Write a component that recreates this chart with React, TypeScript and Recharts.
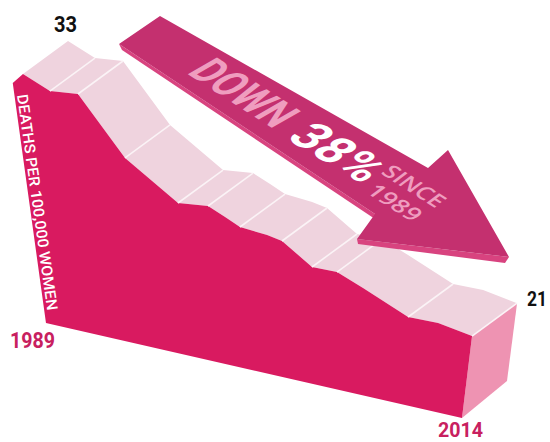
// App.tsx: extruded wedge chart of deaths per 100,000 women, 1989-2014
import { ScatterChart, Scatter, XAxis, YAxis } from "recharts";

// front edge of the wedge
const years = [1989, 1990.5, 1992.06, 1994.68, 1997.63, 1999.3, 2000.25, 2001.08, 2002.59, 2003.42, 2005.09, 2006.48, 2007.93, 2010.44, 2012.11, 2014];
const rates = [33, 32.18, 32.44, 28.44, 25.96, 26.25, 25.72, 25.22, 25.08, 24.89, 23.45, 23.5, 22.74, 21.34, 21.4, 21];

// white rules across the top face
const dividerYears = [1990.5, 1992.06, 1994.68, 1997.63, 1999.3, 2001.08, 2003.42, 2005.09, 2006.48, 2010.44, 2014];

const baseRate = 14.67;
const chamferYear = 1988.43;
const chamferRate = 32.15;
const baseStartYear = 1990.28;
const baseEndYear = 2013.44;

// oblique projection, in axis units
const floorSlope = 0.3083;
const depthYears = 2.506;
const depthRate = 2.48;

const project = (year: number, rate: number, depth = 0) => ({
  x: year + depth * depthYears,
  y: rate - floorSlope * (year - 1989) + depth * depthRate,
});

const frontEdge = years.map((y, i) => project(y, rates[i]));
const backEdge = years.map((y, i) => project(y, rates[i], 1));

const frontFace = [
  project(chamferYear, chamferRate),
  ...frontEdge,
  project(baseEndYear, baseRate),
  project(baseStartYear, baseRate),
];
const topFace = [...frontEdge, ...[...backEdge].reverse()];
const sideFace = [
  project(2014, 21),
  project(2014, 21, 1),
  project(baseEndYear, baseRate + 0.3, 1),
  project(baseEndYear, baseRate),
];

const noDot = () => <g />;

const pathOf = (points: { x: number; y: number }[]) =>
  points.map((p, i) => `${i ? "L" : "M"}${p.x},${p.y}`).join(" ");

const polygon = (fill: string) => (props: any) => (
  <path d={pathOf(props.points) + " Z"} fill={fill} stroke="none" />
);

const rule = (props: any) => (
  <path d={pathOf(props.points)} fill="none" stroke="#FBF3F6" strokeWidth={1.6} />
);

const ARROW = "#C4306F";
const ARROW_EDGE = "#D8437F";
const ARROW_TEXT = "#EF9DBF";
const YEAR_TEXT = "#C8205F";

export default function App() {
  return (
    <div style={{ position: "absolute", left: 0, top: 0, width: 550, height: 442, background: "#fff" }}>
      <ScatterChart width={550} height={442} margin={{ top: 0, right: 0, bottom: 0, left: 0 }}>
        <XAxis type="number" dataKey="x" domain={[1987.72, 2018.34]} hide allowDataOverflow />
        <YAxis type="number" dataKey="y" domain={[5.331, 38.564]} hide allowDataOverflow />
        <Scatter data={topFace} line={polygon("#EFD3DE")} shape={noDot} isAnimationActive={false} />
        <Scatter data={sideFace} line={polygon("#EE93B2")} shape={noDot} isAnimationActive={false} />
        <Scatter data={frontFace} line={polygon("#D91A60")} shape={noDot} isAnimationActive={false} />
        {dividerYears.map((yr) => {
          const r = rates[years.indexOf(yr)];
          return (
            <Scatter
              key={yr}
              data={[project(yr, r), project(yr, r, 1)]}
              line={rule}
              shape={noDot}
              isAnimationActive={false}
            />
          );
        })}
      </ScatterChart>

      {/* arrow annotation and labels sit on top of the chart */}
      <svg width={550} height={442} style={{ position: "absolute", left: 0, top: 0 }}>
        <polygon points="119,44 122,50 375,219 377,219 375,214" fill={ARROW_EDGE} />
        <polygon points="357,239 358,244 505,263 509,257" fill={ARROW_EDGE} />
        <polygon
          points="119,44 160,16 428,168 448,150 509,257 357,239 375,214"
          fill={ARROW}
        />

        <text
          transform="matrix(0.843,0.539,-0.87,0.5,186,73)"
          fontFamily="Roboto"
          fontWeight={700}
          fontSize={47}
          textLength={104}
          lengthAdjust="spacingAndGlyphs"
          fill={ARROW_TEXT}
        >
          DOWN
        </text>
        <text
          transform="matrix(0.86,0.51,-0.87,0.5,285,138)"
          fontFamily="Roboto"
          fontWeight={700}
          fontSize={50}
          textLength={90}
          lengthAdjust="spacingAndGlyphs"
          fill="#fff"
        >
          38%
        </text>
        <text
          transform="matrix(0.843,0.539,-0.8,0.6,380,173)"
          fontFamily="Open Sans"
          fontWeight={600}
          fontSize={22}
          textLength={66}
          lengthAdjust="spacingAndGlyphs"
          fill={ARROW_TEXT}
        >
          SINCE
        </text>
        <text
          transform="matrix(0.843,0.539,-0.8,0.6,365,192)"
          fontFamily="Open Sans"
          fontWeight={600}
          fontSize={22}
          textLength={56}
          lengthAdjust="spacingAndGlyphs"
          fill={ARROW_TEXT}
        >
          1989
        </text>

        <text
          transform="translate(17,95) rotate(82)"
          fontFamily="Roboto"
          fontWeight={500}
          fontSize={15}
          textLength={218}
          lengthAdjust="spacingAndGlyphs"
          fill="#fff"
        >
          DEATHS PER 100,000 WOMEN
        </text>

        <text x={54} y={32} fontFamily="Roboto" fontWeight={700} fontSize={22} textLength={23} lengthAdjust="spacingAndGlyphs" fill="#111">
          33
        </text>
        <text x={527} y={306} fontFamily="Roboto" fontWeight={700} fontSize={21} textLength={20} lengthAdjust="spacingAndGlyphs" fill="#111">
          21
        </text>
        <text x={10} y={348} fontFamily="Roboto" fontWeight={700} fontSize={22} textLength={45} lengthAdjust="spacingAndGlyphs" fill={YEAR_TEXT}>
          1989
        </text>
        <text x={438} y={437} fontFamily="Roboto" fontWeight={700} fontSize={21} textLength={45} lengthAdjust="spacingAndGlyphs" fill={YEAR_TEXT}>
          2014
        </text>
      </svg>
    </div>
  );
}
